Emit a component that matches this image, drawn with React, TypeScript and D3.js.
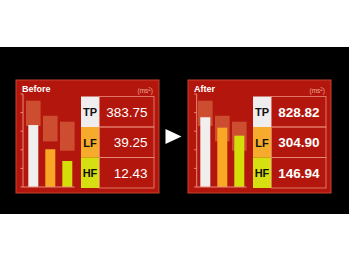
import React from "react";
import * as d3 from "d3";

const categories = ["TP", "LF", "HF"];
const panelTitles = ["Before", "After"];
const beforeValues = [383.75, 39.25, 12.43];
const afterValues = [828.82, 304.9, 146.94];
const beforeBars = [3.33, 2.03, 1.4];
const afterBars = [3.75, 3.19, 2.76];
const rangeLow = [3.28, 2.45, 1.95];
const rangeHigh = [4.64, 3.83, 3.51];
const yTicks = [0, 1, 2, 3, 4, 5];
const unitLabel = "ms";

const W = 349;
const H = 262;
const barColors = ["#f1eeee", "#f8a825", "#d6de0a"];
const cellColors = ["#efeded", "#f6ab2c", "#d5df12"];
const panelFill = "#b3160d";
const lineColor = "#e98c7a";

const panels = [
  { x: 16, axisDx: 7, title: panelTitles[0], bars: beforeBars, values: beforeValues, bold: false },
  { x: 188, axisDx: 8.7, title: panelTitles[1], bars: afterBars, values: afterValues, bold: true },
];

const panelW = 143;
const panelTop = 80;
const panelBottom = 193;

function Panel({ p }: { p: typeof panels[number] }) {
  const y = d3.scaleLinear().domain([0, 5]).range([187, 94]);
  const xBand = d3
    .scaleBand<string>()
    .domain(categories)
    .range([p.x + 12.3, p.x + 56.3])
    .paddingInner(0.412)
    .paddingOuter(0);
  const axisX = p.x + p.axisDx;
  const tableL = p.x + 65;
  const labelW = 18;
  const tableR = p.x + panelW - 5;
  const rowY = d3.scaleBand<string>().domain(categories).range([96.5, 188]);
  const fmt = d3.format(".2f");
  const lastBand = categories[categories.length - 1];
  return (
    <g>
      <rect
        x={p.x}
        y={panelTop}
        width={panelW}
        height={panelBottom - panelTop}
        fill={panelFill}
        stroke="#c8432c"
        strokeWidth={1}
      />
      <text
        x={p.x + 6}
        y={92}
        fill="#fff"
        fontFamily="Liberation Sans, Arial, sans-serif"
        fontWeight="bold"
        fontSize={9}
      >
        {p.title}
      </text>
      <text
        x={tableR - 1}
        y={93}
        textAnchor="end"
        fill="#f0a595"
        fontFamily="Liberation Sans, Arial, sans-serif"
        fontSize={6.5}
      >
        ({unitLabel}
        <tspan fontSize={4.5} dy={-2.5}>2</tspan>
        <tspan dy={2.5}>)</tspan>
      </text>
      {categories.map((c, i) => (
        <rect
          key={"r" + c}
          x={(xBand(c) as number) - 2.3}
          width={xBand.bandwidth() + 4.6}
          y={y(rangeHigh[i])}
          height={y(rangeLow[i]) - y(rangeHigh[i])}
          fill="#d7633f"
          opacity={0.72}
        />
      ))}
      {categories.map((c, i) => (
        <rect
          key={"b" + c}
          x={xBand(c)}
          width={xBand.bandwidth()}
          y={y(p.bars[i])}
          height={y(0) - y(p.bars[i])}
          fill={barColors[i]}
        />
      ))}
      <line x1={axisX} x2={axisX} y1={y(5)} y2={y(0)} stroke={lineColor} strokeWidth={1} />
      {yTicks.map((t) => (
        <line key={t} x1={axisX - 2.5} x2={axisX} y1={y(t)} y2={y(t)} stroke={lineColor} strokeWidth={1} />
      ))}
      <line
        x1={axisX}
        x2={(xBand(lastBand) as number) + xBand.bandwidth() + 2.3}
        y1={y(0)}
        y2={y(0)}
        stroke={lineColor}
        strokeWidth={1.2}
      />
      {categories.map((c, i) => {
        const ry = rowY(c) as number;
        const rh = rowY.bandwidth();
        return (
          <g key={"t" + c}>
            <rect x={tableL} y={ry} width={labelW} height={rh} fill={cellColors[i]} />
            <text
              x={tableL + labelW / 2}
              y={ry + rh / 2 + 0.5}
              textAnchor="middle"
              dominantBaseline="central"
              fill="#111"
              fontFamily="Liberation Sans, Arial, sans-serif"
              fontWeight="bold"
              fontSize={11}
            >
              {c}
            </text>
            <rect
              x={tableL + labelW + 0.5}
              y={ry}
              width={tableR - tableL - labelW - 0.5}
              height={rh}
              fill="none"
              stroke={lineColor}
              strokeWidth={0.8}
            />
            <text
              x={tableR - 6.5}
              y={ry + rh / 2 + 0.5}
              textAnchor="end"
              dominantBaseline="central"
              fill="#fff"
              fontFamily="Liberation Sans, Arial, sans-serif"
              fontWeight={p.bold ? "bold" : "normal"}
              fontSize={13.5}
            >
              {fmt(p.values[i])}
            </text>
          </g>
        );
      })}
    </g>
  );
}

export default function App() {
  const gapL = panels[0].x + panelW;
  const gapR = panels[1].x;
  const cx = (gapL + gapR) / 2;
  const cy = (panelTop + panelBottom) / 2;
  return (
    <svg
      width={W}
      height={H}
      style={{ position: "absolute", left: 0, top: 0, background: "#fff" }}
    >
      <rect x={0} y={47} width={W} height={167} fill="#000" />
      {panels.map((p) => (
        <Panel key={p.title} p={p} />
      ))}
      <path
        d={`M${cx - 8},${cy - 7.5} L${cx + 8},${cy} L${cx - 8},${cy + 7.5} Z`}
        fill="#fff"
      />
    </svg>
  );
}
